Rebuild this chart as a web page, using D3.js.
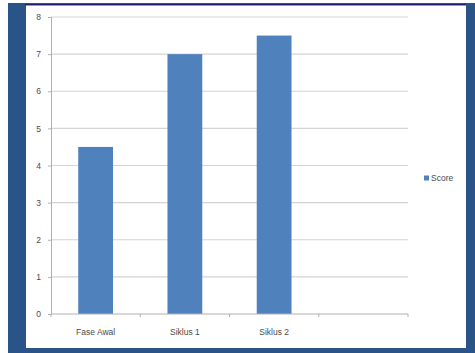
<!DOCTYPE html>
<html>
<head>
<meta charset="utf-8">
<script src="https://cdn.jsdelivr.net/npm/d3@7/dist/d3.min.js"></script>
<style>
  html, body { margin: 0; padding: 0; background: #ffffff; }
  svg { display: block; }
  text { font-family: "Liberation Sans", Arial, sans-serif; fill: #4a4a4a; }
</style>
</head>
<body>
<svg id="chart" width="475" height="353"></svg>
<script>
// Scores per phase (the fourth slot on the axis is left empty)
const categories = ["Fase Awal", "Siklus 1", "Siklus 2", ""];
const scores = [4.5, 7, 7.5, null];
const yTicks = [0, 1, 2, 3, 4, 5, 6, 7, 8];
const seriesName = "Score";

const svg = d3.select("#chart");

// Slide frame: blue border around a white panel
svg.append("rect").attr("x", 8).attr("y", 3).attr("width", 467).attr("height", 350).attr("fill", "#2a5388");
svg.append("rect").attr("x", 25).attr("y", 4).attr("width", 441).attr("height", 1.5).attr("fill", "#1f1f78");
svg.append("rect").attr("x", 26).attr("y", 5.5).attr("width", 440).attr("height", 342.5).attr("fill", "#ffffff");

const plot = { left: 51, right: 408, top: 17, bottom: 314 };

const x = d3.scaleBand()
  .domain(categories.map((c, i) => i))
  .range([plot.left, plot.right])
  .paddingInner(0.61)
  .paddingOuter(0.305);

const xSlots = d3.scaleBand()
  .domain(categories.map((c, i) => i))
  .range([plot.left, plot.right]);

const y = d3.scaleLinear().domain([0, 8]).range([plot.bottom, plot.top]);

// Horizontal gridlines
svg.append("g")
  .selectAll("line")
  .data(yTicks.filter(t => t > 0))
  .join("line")
  .attr("x1", plot.left).attr("x2", plot.right)
  .attr("y1", d => y(d)).attr("y2", d => y(d))
  .attr("stroke", "#d4d4d4").attr("stroke-width", 1.2);

// Bars
svg.append("g")
  .selectAll("rect")
  .data(scores.map((v, i) => ({ i, v })).filter(d => d.v != null))
  .join("rect")
  .attr("x", d => x(d.i))
  .attr("y", d => y(d.v))
  .attr("width", x.bandwidth())
  .attr("height", d => y(0) - y(d.v))
  .attr("fill", "#4f81bd");

// Y axis
const yAxis = svg.append("g")
  .attr("transform", `translate(${plot.left},0)`)
  .call(d3.axisLeft(y).tickValues(yTicks).tickFormat(d3.format("d")).tickSize(3).tickPadding(7));
yAxis.select(".domain").attr("stroke", "#b0b0b0");
yAxis.selectAll(".tick line").attr("stroke", "#b0b0b0");
yAxis.selectAll("text").attr("font-size", 8.5).style("fill", "#4a4a4a")
  .attr("font-family", "Liberation Sans, Arial, sans-serif");

// X axis with ticks on slot boundaries
const xg = svg.append("g").attr("transform", `translate(0,${plot.bottom})`);
xg.append("line")
  .attr("x1", plot.left).attr("x2", plot.right)
  .attr("y1", 0).attr("y2", 0)
  .attr("stroke", "#b0b0b0");
const bounds = categories.map((c, i) => xSlots(i)).concat([plot.right]);
xg.selectAll("line.tk")
  .data(bounds)
  .join("line")
  .attr("class", "tk")
  .attr("x1", d => d).attr("x2", d => d)
  .attr("y1", 0).attr("y2", 3)
  .attr("stroke", "#b0b0b0");
xg.selectAll("text")
  .data(categories)
  .join("text")
  .attr("x", (d, i) => xSlots(i) + xSlots.bandwidth() / 2)
  .attr("y", 21)
  .attr("text-anchor", "middle")
  .attr("font-size", 8.5)
  .text(d => d);

// Legend
const lg = svg.append("g").attr("transform", "translate(424,178)");
lg.append("rect").attr("x", 0).attr("y", -2.5).attr("width", 5).attr("height", 5).attr("fill", "#4f81bd");
lg.append("text").attr("x", 7).attr("y", 3).attr("font-size", 8.5).text(seriesName);
</script>
</body>
</html>
